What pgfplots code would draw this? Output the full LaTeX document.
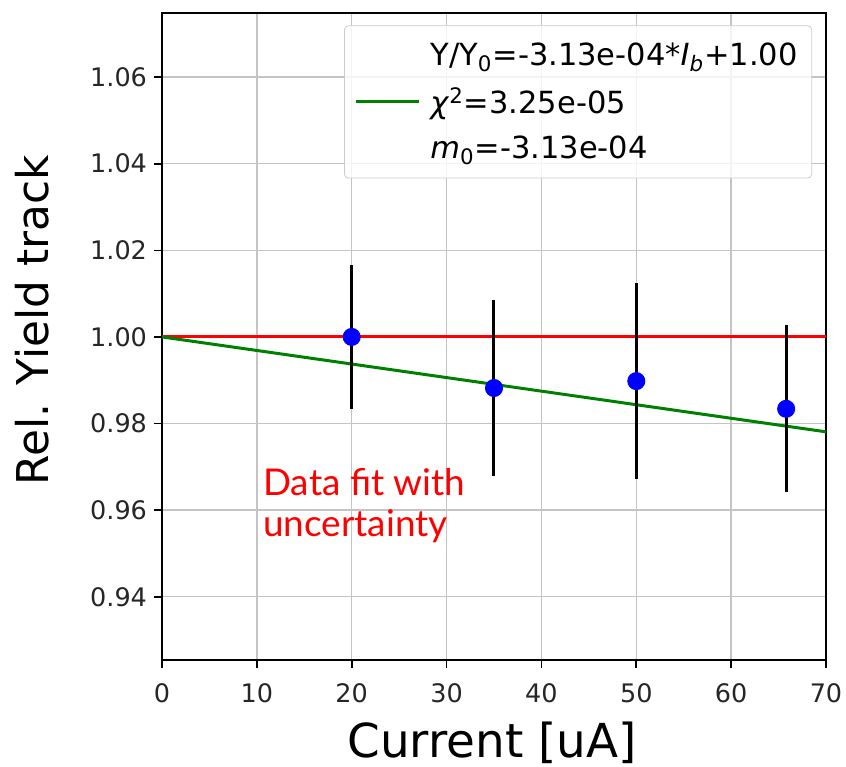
\documentclass[border=0pt]{standalone}
\usepackage{fontspec}
\setmainfont{DejaVu Sans}
\newfontfamily\lato{Lato}
\usepackage{pgfplots}
\pgfplotsset{compat=1.18}
\definecolor{mplgreen}{RGB}{0,128,0}
\definecolor{gridgray}{RGB}{196,196,196}
\begin{document}
\begin{tikzpicture}
\path[use as bounding box] (-81bp,-53.5bp) rectangle (342bp,330bp);
\begin{axis}[
  at={(0,0)}, anchor=south west,
  scale only axis, width=332bp, height=323.5bp,
  xmin=0, xmax=70, ymin=0.9254, ymax=1.0748,
  xtick={0,10,20,30,40,50,60,70},
  ytick={0.94,0.96,0.98,1.00,1.02,1.04,1.06},
  yticklabel style={/pgf/number format/.cd, fixed, fixed zerofill, precision=2},
  xticklabel style={yshift=-4.5bp},
  tick align=outside, tick pos=left, major tick length=4bp,
  tick style={black, line width=0.8bp},
  grid=major, grid style={gridgray, line width=0.7bp},
  axis line style={line width=0.8bp},
  /pgf/number format/assume math mode=true,
  ticklabel style={font=\fontsize{12.8}{15}\selectfont, text=black!85},
  xlabel={Current [uA]}, ylabel={Rel. Yield track},
  xlabel style={font=\fontsize{23.5}{28}\selectfont, at={(axis description cs:0.497,-0.128)}, anchor=center},
  ylabel style={font=\fontsize{22}{26}\selectfont, at={(axis description cs:-0.196,0.525)}, anchor=center},
  legend style={at={(axis description cs:0.979,0.981)}, anchor=north east,
    draw=black!20, fill=white, fill opacity=0.8, text opacity=1,
    rounded corners=2bp, inner xsep=5bp, inner ysep=6.5bp, row sep=5.5bp,
    font=\fontsize{15.3}{18}\selectfont},
  legend cell align=left,
  legend image code/.code={\draw[#1, line width=1.5bp] (0bp,0bp) -- (31.5bp,0bp); \path (0bp,0bp) (34.5bp,0bp);},
]
\addlegendimage{empty legend}
\addlegendentry{Y/Y\textsubscript{0}=-3.13e-04*\textit{I}\textsubscript{\textit{b}}+1.00}
\addplot[red, line width=1.5bp, forget plot] coordinates {(0,1.0) (70,1.0)};
\addplot[mplgreen, line width=1.5bp] coordinates {(0,1.0) (70,0.97809)};
\addlegendentry{\textit{χ}\textsuperscript{2}=3.25e-05}
\addlegendimage{empty legend}
\addlegendentry{\textit{m}\textsubscript{0}=-3.13e-04}
\addplot[only marks, mark=*, mark size=4.3bp, blue, mark options={draw=blue, fill=blue}, forget plot,
  error bars/.cd, y dir=both, y explicit, error mark=none,
  error bar style={black, line width=1.5bp}]
  coordinates {(20,1.0000) +- (0,0.0167) (35,0.9882) +- (0,0.0203) (50,0.9898) +- (0,0.0227) (65.8,0.9834) +- (0,0.0193)};
\node[anchor=base west, inner sep=0, text=red, font=\lato\fontsize{18.5}{21}\selectfont] at (axis cs:10.65,0.9633) {Data fit with};
\node[anchor=base west, inner sep=0, text=red, font=\lato\fontsize{18.5}{21}\selectfont] at (axis cs:10.65,0.95384) {uncertainty};
\end{axis}
\end{tikzpicture}
\end{document}
